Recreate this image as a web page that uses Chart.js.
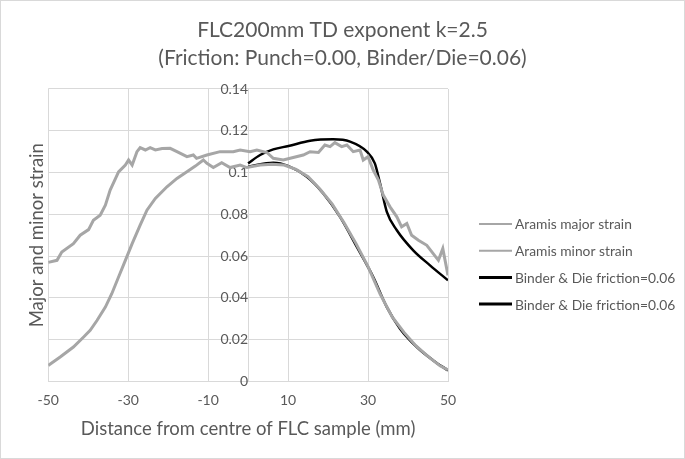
<!DOCTYPE html>
<html>
<head>
<meta charset="utf-8">
<script src="https://cdn.jsdelivr.net/npm/chart.js@4/dist/chart.umd.min.js"></script>
<style>
    html, body { margin: 0; padding: 0; background: #fff; }
    #wrap { width: 685px; height: 459px; box-sizing: border-box; border: 1px solid #d9d9d9; }
</style>
</head>
<body>
<div id="wrap"><canvas id="chart" width="683" height="457"></canvas></div>
<script>
// x tick labels shown on the bottom axis
const xTicks = [-50, -30, -10, 10, 30, 50];

// Aramis measurements (noisy, both sides of centre)
const majorX = [-50, -47.8, -46.6, -43.7, -42, -39.9, -38.7, -37, -35.7, -34.5, -32.4, -30.7, -29.9, -29, -27.8, -27,
    -25.7, -24.5, -23.2, -21.5, -19.5, -17.8, -15.3, -13.7, -12.9, -10.3, -7, -3.7, -2, 0.5, 2.2, 4.7, 6.3, 8.8,
    11.3, 13.8, 15.5, 17.6, 19.2, 20.5, 21.7, 23.4, 24.7, 26.3, 28, 28.8, 30, 31.3, 32.6, 33.8, 35.5, 37.2, 38.4,
    39.7, 40.9, 42.6, 44.7, 46.3, 47.6, 48.7, 50];
const majorY = [0.057, 0.058, 0.062, 0.066, 0.070, 0.0727, 0.0772, 0.0796, 0.0844, 0.0916, 0.1003, 0.1036, 0.106,
    0.1036, 0.110, 0.1119, 0.1108, 0.1119, 0.1108, 0.1115, 0.1116, 0.110, 0.1076, 0.1084, 0.1068, 0.1084, 0.110,
    0.110, 0.1108, 0.110, 0.1108, 0.1096, 0.1068, 0.106, 0.1072, 0.1084, 0.110, 0.1096, 0.1132, 0.1124, 0.1143,
    0.1124, 0.1132, 0.110, 0.1108, 0.106, 0.1076, 0.1012, 0.0964, 0.0892, 0.0836, 0.0788, 0.074, 0.0756, 0.070,
    0.0676, 0.0652, 0.0612, 0.058, 0.0636, 0.0508];

const minorX = [-50, -47, -43.7, -41.2, -39.5, -37.8, -35.7, -34.1, -32.4, -30.7, -29, -27, -25.3, -23.2, -20.3,
    -17.8, -15.3, -13.2, -11.2, -10.3, -8.7, -6.6, -4.5, -2, -0.3, 3, 6, 9, 12, 15, 18, 21, 24, 27, 30, 33, 36, 39,
    42, 45, 48, 50];
const minorY = [0.0077, 0.0117, 0.0165, 0.0212, 0.0245, 0.0292, 0.0356, 0.042, 0.050, 0.058, 0.066, 0.0748, 0.082,
    0.0876, 0.0932, 0.0972, 0.1004, 0.1031, 0.106, 0.1044, 0.1024, 0.1047, 0.1024, 0.1036, 0.1024, 0.1036, 0.104,
    0.1036, 0.1015, 0.098, 0.092, 0.085, 0.076, 0.066, 0.055, 0.042, 0.031, 0.0235, 0.017, 0.012, 0.0075, 0.0055];

// simulation, binder & die friction 0.06 (right half only)
const simUpperX = [0, 3, 6.3, 10.1, 15.5, 21.3, 25.5, 29.7, 31.7, 33, 34.7, 37.2, 41.3, 45.5, 50];
const simUpperY = [0.1044, 0.1084, 0.1111, 0.1127, 0.1152, 0.1159, 0.1148, 0.110, 0.1044, 0.0948, 0.0812, 0.0724,
    0.0628, 0.0556, 0.0484];
const simLowerX = [0, 6.3, 10.1, 14.7, 18.8, 23, 27.2, 31.3, 34.7, 38, 42.2, 46.3, 50];
const simLowerY = [0.1028, 0.1047, 0.1031, 0.098, 0.090, 0.0788, 0.0644, 0.050, 0.0356, 0.0253, 0.0165, 0.0101,
    0.0053];

const pts = (xs, ys) => xs.map((x, i) => ({ x: x, y: ys[i] }));

const textColor = '#595959';
const gridColor = '#d9d9d9';
const font = 'Lato';

// Chart.js caps a right-hand legend at a fraction of the width here, which cuts the labels,
// so the legend is drawn by hand in the space kept free by the 'legendSpace' axis.
const sideLegend = {
    id: 'sideLegend',
    afterDraw(chart) {
        const ctx = chart.ctx;
        const x0 = chart.chartArea.right + 31;
        ctx.save();
        ctx.font = '13.8px ' + font;
        ctx.textBaseline = 'middle';
        chart.data.datasets.forEach((ds, i) => {
            const y = 223 + i * 26.7;
            ctx.strokeStyle = ds.borderColor;
            ctx.lineWidth = ds.borderWidth === 3 ? 2 : 3;
            ctx.beginPath();
            ctx.moveTo(x0, y);
            ctx.lineTo(x0 + 33, y);
            ctx.stroke();
            ctx.fillStyle = textColor;
            ctx.fillText(ds.label, x0 + 36, y + 1);
        });
        ctx.restore();
    },
};

const blankAxis = (position, extra) => Object.assign({
    type: 'linear',
    position: position,
    ticks: { display: false },
    grid: { display: false, drawTicks: false },
    border: { display: false },
}, extra);

new Chart(document.getElementById('chart').getContext('2d'), {
    type: 'line',
    data: {
        datasets: [
            { label: 'Aramis major strain', data: pts(majorX, majorY), borderColor: '#a6a6a6', borderWidth: 3, tension: 0 },
            { label: 'Aramis minor strain', data: pts(minorX, minorY), borderColor: '#a6a6a6', borderWidth: 3, tension: 0 },
            { label: 'Binder & Die friction=0.06', data: pts(simUpperX, simUpperY), borderColor: '#000', borderWidth: 2.5, cubicInterpolationMode: 'monotone' },
            { label: 'Binder & Die friction=0.06', data: pts(simLowerX, simLowerY), borderColor: '#000', borderWidth: 2.5, cubicInterpolationMode: 'monotone' },
        ],
    },
    plugins: [sideLegend],
    options: {
        responsive: false,
        animation: false,
        parsing: false,
        elements: { point: { radius: 0 } },
        layout: { padding: { left: 21, right: 21, top: 0, bottom: 20 } },
        plugins: {
            title: {
                display: true,
                text: ['FLC200mm TD exponent k=2.5', '(Friction: Punch=0.00, Binder/Die=0.06)'],
                color: textColor,
                font: { family: font, size: 21, weight: 'normal', lineHeight: 1.333 },
                padding: { top: 15.5, bottom: 16.5 },
            },
            legend: { display: false },
            tooltip: { enabled: false },
        },
        scales: {
            x: {
                type: 'linear',
                min: -50,
                max: 50,
                afterBuildTicks: (axis) => { axis.ticks = xTicks.map(v => ({ value: v })); },
                grid: { color: gridColor, drawTicks: false },
                border: { color: gridColor },
                ticks: { color: textColor, font: { family: font, size: 14 }, padding: 10.6, maxRotation: 0 },
                title: {
                    display: true,
                    text: 'Distance from centre of FLC sample (mm)',
                    color: textColor,
                    font: { family: font, size: 18.5, lineHeight: 1 },
                    padding: { top: 0, bottom: 0 },
                },
            },
            y: {
                type: 'linear',
                position: { x: 0 },
                min: 0,
                max: 0.14,
                ticks: { stepSize: 0.02, color: textColor, font: { family: font, size: 14 }, padding: 3, callback: (v) => +v.toFixed(2) },
                grid: { color: gridColor, tickLength: 8, tickColor: 'rgba(0,0,0,0)' },
                border: { color: gridColor },
            },
            yTitle: blankAxis('left', {
                title: {
                    display: true,
                    text: 'Major and minor strain',
                    color: textColor,
                    font: { family: font, size: 18.5 },
                    padding: { top: 4, bottom: 0 },
                },
            }),
            legendSpace: blankAxis('right', {
                afterFit: (axis) => { axis.width = 215; },
            }),
        },
    },
});
</script>
</body>
</html>
